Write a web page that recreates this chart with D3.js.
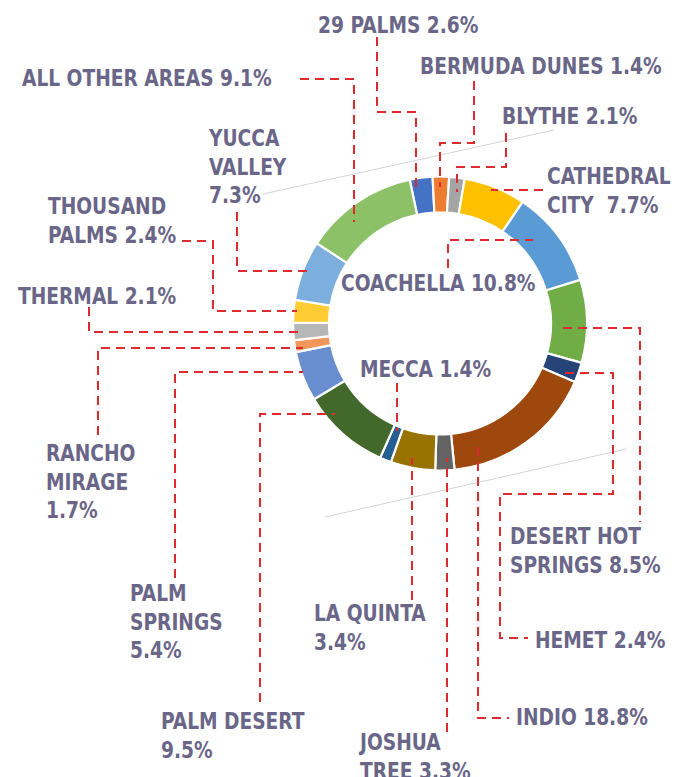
<!DOCTYPE html>
<html>
<head>
<meta charset="utf-8">
<script src="https://cdn.jsdelivr.net/npm/d3@7"></script>
<style>
  html, body { margin: 0; padding: 0; background: #fff; }
  svg text { white-space: pre; }
</style>
</head>
<body>
<div id="chart"></div>
<script>
// areas, in the order the slices run clockwise
const areas = ["29 PALMS", "BERMUDA DUNES", "BLYTHE", "CATHEDRAL CITY", "COACHELLA",
  "DESERT HOT SPRINGS", "HEMET", "INDIO", "JOSHUA TREE", "LA QUINTA", "MECCA",
  "PALM DESERT", "PALM SPRINGS", "RANCHO MIRAGE", "THERMAL", "THOUSAND PALMS",
  "YUCCA VALLEY", "ALL OTHER AREAS"];
// percentages printed in the labels
const labelPct = [2.6, 1.4, 2.1, 7.7, 10.8, 8.5, 2.4, 18.8, 3.3, 3.4, 1.4, 9.5, 5.4, 1.7, 2.1, 2.4, 7.3, 9.1];
// slice sizes as drawn (read off the ring, they do not follow the labels exactly)
const sliceValues = [2.5, 1.8, 1.7, 6.8, 10.7, 9.1, 2.2, 16.9, 2.1, 4.9, 1.25, 9.7, 5.5, 1.3, 1.9, 2.5, 6.6, 12.5];
const colors = ["#4472C4", "#ED7D31", "#A5A5A5", "#FFC000", "#5B9BD5", "#70AD47",
  "#264478", "#9E480E", "#636363", "#997300", "#255E91", "#43682B",
  "#698ED0", "#F1975A", "#B7B7B7", "#FFCD33", "#7CAFDD", "#8CC168"];

const width = 681, height = 777;
const cx = 440, cy = 323.5, rOuter = 147, rInner = 111;

// label placement: x, first baseline, words per line, leader waypoints
const layout = [
  { x: 318, y: 33,  words: [3],       leader: [[377, 37], [377, 112], [416, 112], [416, 188]] },
  { x: 420, y: 74,  words: [3],       leader: [[474, 81], [474, 143], [440, 143], [440, 187]] },
  { x: 502, y: 124, words: [2],       leader: [[506, 133], [506, 167], [457, 167], [457, 192]] },
  { x: 547, y: 184, words: [1, 2],    leader: [[543, 190], [491, 190]], gap: "  " },
  { x: 341, y: 291, words: [2],       leader: [[448, 268], [448, 240], [533, 240]] },
  { x: 510, y: 544, words: [2, 2],    leader: [[563, 328], [640, 328], [640, 522]] },
  { x: 535, y: 648, words: [2],       leader: [[565, 373], [613, 373], [613, 494], [500, 494], [500, 638], [528, 638]] },
  { x: 516, y: 725, words: [2],       leader: [[478, 447], [478, 718], [509, 718]] },
  { x: 360, y: 750, words: [1, 2],    leader: [[447, 732], [447, 458]] },
  { x: 314, y: 621, words: [2, 1],    leader: [[412, 600], [412, 458]] },
  { x: 360, y: 377, words: [2],       leader: [[397, 383], [397, 431]] },
  { x: 161, y: 729, words: [2, 1],    leader: [[260, 702], [260, 414], [335, 414]] },
  { x: 130, y: 601, words: [1, 1, 1], leader: [[175, 578], [175, 372], [303, 372]] },
  { x: 46,  y: 461, words: [1, 1, 1], leader: [[98, 435], [98, 348], [303, 348]] },
  { x: 18,  y: 304, words: [2],       leader: [[89, 307], [89, 332], [300, 332]] },
  { x: 48,  y: 214, words: [1, 2],    leader: [[182, 241], [213, 241], [213, 311], [297, 311]] },
  { x: 209, y: 146, words: [1, 1, 1], leader: [[237, 212], [237, 271], [311, 271]] },
  { x: 22,  y: 86,  words: [4],       leader: [[300, 79], [354, 79], [354, 222]] }
];
const lineStep = 28.7;
const squeeze = 0.9;   // the original face is narrower than DejaVu Condensed

const svg = d3.select("#chart").append("svg")
  .attr("width", width)
  .attr("height", height)
  .style("font-family", "'DejaVu Sans Condensed', 'DejaVu Sans', sans-serif")
  .style("font-weight", "bold");

// faint grey guide lines behind everything
const guides = [[[263, 194], [554, 130]], [[325, 517], [626, 449]]];
svg.append("g").selectAll("line")
  .data(guides)
  .join("line")
  .attr("x1", d => d[0][0]).attr("y1", d => d[0][1])
  .attr("x2", d => d[1][0]).attr("y2", d => d[1][1])
  .attr("stroke", "#d4d4d4")
  .attr("stroke-width", 1);

const startAngle = -11.9 * Math.PI / 180;
const pie = d3.pie()
  .sort(null)
  .value(d => d)
  .startAngle(startAngle)
  .endAngle(startAngle + 2 * Math.PI);

const arc = d3.arc().innerRadius(rInner).outerRadius(rOuter);

svg.append("g")
  .attr("transform", `translate(${cx},${cy})`)
  .selectAll("path")
  .data(pie(sliceValues))
  .join("path")
  .attr("d", arc)
  .attr("fill", (d, i) => colors[i])
  .attr("stroke", "#fff")
  .attr("stroke-width", 2.2);

// red dashed leaders
svg.append("g").selectAll("path")
  .data(layout)
  .join("path")
  .attr("d", d => d3.line()(d.leader))
  .attr("fill", "none")
  .attr("stroke", "#df2b2f")
  .attr("stroke-width", 2)
  .attr("stroke-dasharray", "9,6");

// labels
const labels = svg.append("g").selectAll("text")
  .data(areas)
  .join("text")
  .attr("transform", (d, i) => `translate(${layout[i].x},${layout[i].y}) scale(${squeeze},1)`)
  .attr("fill", "#6a6688")
  .attr("font-size", 23);

labels.each(function(name, i) {
  const parts = (name + " " + labelPct[i].toFixed(1) + "%").split(" ");
  const lay = layout[i];
  let k = 0;
  lay.words.forEach((n, li) => {
    const lineText = parts.slice(k, k + n).join(li > 0 && lay.gap ? lay.gap : " ");
    k += n;
    d3.select(this).append("tspan")
      .attr("x", 0)
      .attr("dy", li === 0 ? 0 : lineStep)
      .text(lineText);
  });
});
</script>
</body>
</html>
